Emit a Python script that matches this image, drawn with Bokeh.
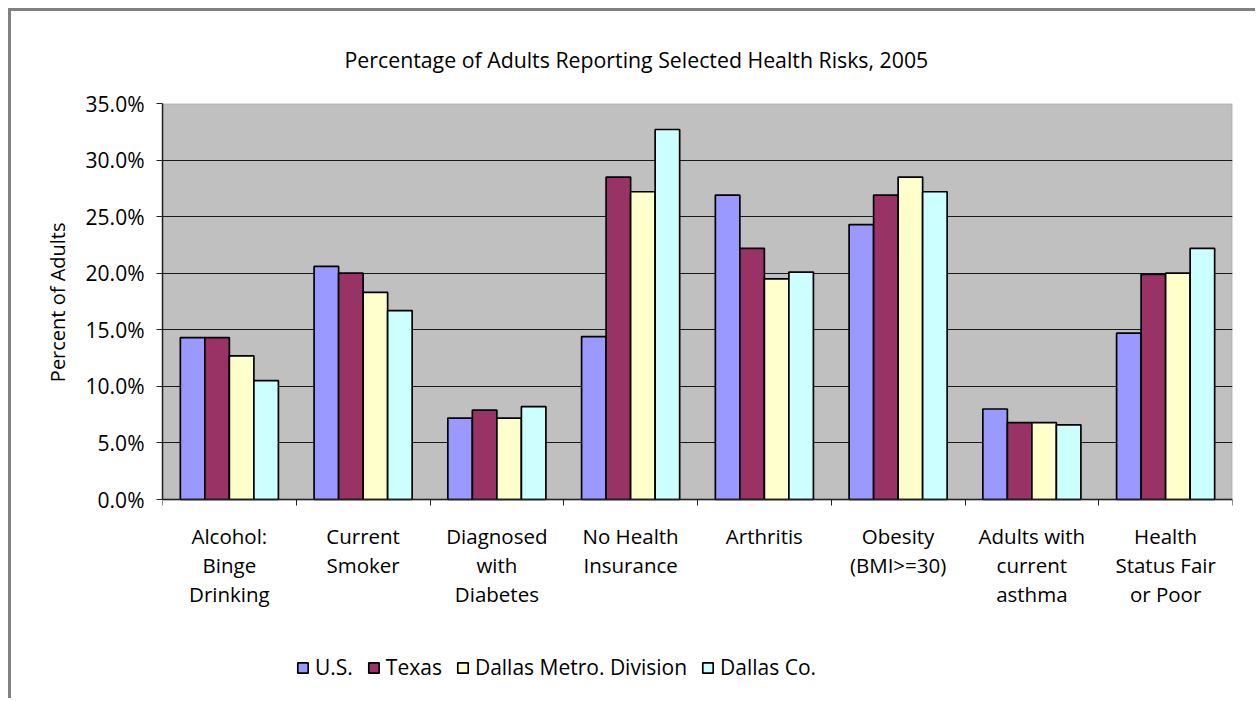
from bokeh.plotting import figure
from bokeh.models import (Range1d, FixedTicker, PrintfTickFormatter, Legend,
                          LegendItem, ColumnDataSource, BoxAnnotation, Title)
from bokeh.transform import dodge
from bokeh.embed import file_html
from bokeh.resources import INLINE

# ---- data (percent of adults) ----
categories = ["Alcohol:\nBinge\nDrinking", "Current\nSmoker", "Diagnosed\nwith\nDiabetes",
              "No Health\nInsurance", "Arthritis", "Obesity\n(BMI>=30)",
              "Adults with\ncurrent\nasthma", "Health\nStatus Fair\nor Poor"]
series_names = ["U.S.", "Texas", "Dallas Metro. Division", "Dallas Co."]
us = [14.3, 20.6, 7.2, 14.4, 26.9, 24.3, 8.0, 14.7]
texas = [14.3, 20.0, 7.9, 28.5, 22.2, 26.9, 6.8, 19.9]
metro = [12.7, 18.3, 7.2, 27.2, 19.5, 28.5, 6.8, 20.0]
dallas_co = [10.5, 16.7, 8.2, 32.7, 20.1, 27.2, 6.6, 22.2]
y_ticks = [0, 5, 10, 15, 20, 25, 30, 35]
y_max = 35

colors = ["#9999FF", "#993366", "#FFFFCC", "#CCFFFF"]
FONT = "Open Sans"

centers = [i + 0.5 for i in range(len(categories))]
boundaries = [i for i in range(len(categories) + 1)]
source = ColumnDataSource(dict(x=centers, us=us, texas=texas, metro=metro, dallas_co=dallas_co))

# frame extends below the value axis so that labels and legend live inside it
PX_PER_UNIT = 396 / y_max
y_low = -196 / PX_PER_UNIT

p = figure(width=1247, height=690,
           x_range=Range1d(0, len(categories)), y_range=Range1d(y_low, y_max),
           output_backend="svg", toolbar_location=None,
           min_border_left=151, min_border_right=26, min_border_top=92, min_border_bottom=6,
           background_fill_color="white", border_fill_color="white",
           outline_line_color=None,
           styles={"border-top": "3px solid #808080", "border-left": "3px solid #808080",
                   "margin-left": "8px", "margin-top": "8px"})

# gray plot area (0 .. 35%)
p.add_layout(BoxAnnotation(bottom=0, top=y_max, fill_color="#C0C0C0", fill_alpha=1,
                           line_color="#808080", line_width=2, level="image"))

p.title.text = "Percentage of Adults Reporting Selected Health Risks, 2005"
p.title.text_font = FONT
p.title.text_font_size = "21.3px"
p.title.text_font_style = "normal"
p.title.text_color = "black"
p.title.align = "left"
p.title.offset = 182
p.title.standoff = 60

bw = 0.1833
cols = ["us", "texas", "metro", "dallas_co"]
items = []
for k, (col, name, color) in enumerate(zip(cols, series_names, colors)):
    r = p.vbar(x=dodge("x", (k - 1.5) * bw, range=p.x_range), top=col, bottom=0, width=bw,
               source=source, fill_color=color, line_color="black", line_width=1.7)
    items.append(LegendItem(label=name, renderers=[r]))

# x axis (fixed at 0)
xa = p.xaxis[0]
xa.fixed_location = 0
xa.ticker = FixedTicker(ticks=centers, minor_ticks=boundaries)
xa.major_label_overrides = {c: lab for c, lab in zip(centers, categories)}
xa.major_tick_line_color = None
xa.major_tick_out = 0
xa.major_tick_in = 0
xa.minor_tick_out = 6
xa.minor_tick_in = 0
xa.minor_tick_line_color = "#222222"
xa.axis_line_color = "#222222"
xa.axis_line_width = 1.5
xa.major_label_standoff = 16
xa.major_label_text_font = FONT
xa.major_label_text_font_size = "20.5px"
xa.major_label_text_line_height = 1.05
xa.major_label_text_color = "black"

# y axis
ya = p.yaxis[0]
ya.bounds = (0, y_max)
ya.ticker = FixedTicker(ticks=y_ticks)
ya.formatter = PrintfTickFormatter(format="%.1f%%")
ya.major_tick_out = 6
ya.major_tick_in = 0
ya.minor_tick_line_color = None
ya.major_tick_line_color = "#222222"
ya.axis_line_color = "#222222"
ya.axis_line_width = 1.5
ya.major_label_standoff = 12
ya.major_label_text_font = FONT
ya.major_label_text_font_size = "21px"
ya.major_label_text_color = "black"

# y axis title, centred on the 0-35% span
p.add_layout(Title(text="Percent of Adults", text_font=FONT, text_font_size="20px",
                   text_font_style="normal", text_color="black", align="right",
                   offset=119, standoff=23), "left")

p.xgrid.grid_line_color = None
p.ygrid.ticker = FixedTicker(ticks=y_ticks[1:-1])
p.ygrid.grid_line_color = "#1a1a1a"
p.ygrid.grid_line_width = 1

legend = Legend(items=items, orientation="horizontal", location=(134, 14),
                border_line_color=None, background_fill_alpha=0,
                label_text_font=FONT, label_text_font_size="21px", label_text_color="black",
                glyph_width=13, glyph_height=13, label_standoff=6, spacing=14,
                padding=5, margin=0)
p.add_layout(legend, "center")

open("out.html", "w").write(file_html(p, INLINE))
